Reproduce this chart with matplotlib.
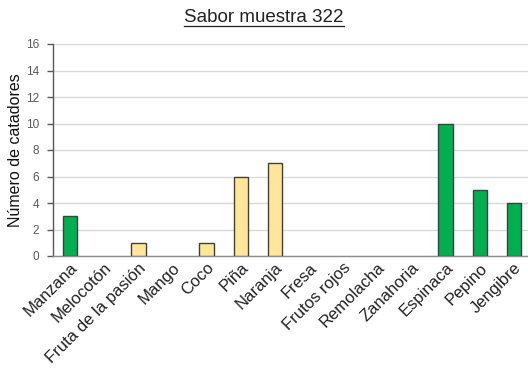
import matplotlib
matplotlib.use("Agg")
import matplotlib.pyplot as plt
from matplotlib.lines import Line2D

plt.rcParams['font.family'] = ['Liberation Sans', 'DejaVu Sans']

categories = ["Manzana", "Melocotón", "Fruta de la pasión", "Mango", "Coco", "Piña",
              "Naranja", "Fresa", "Frutos rojos", "Remolacha", "Zanahoria",
              "Espinaca", "Pepino", "Jengibre"]
values = [3, 0, 1, 0, 1, 6, 7, 0, 0, 0, 0, 10, 5, 4]
groups = ["verde", "fruta", "fruta", "fruta", "fruta", "fruta", "fruta",
          "rojo", "rojo", "rojo", "rojo", "verde", "verde", "verde"]
palette = {"verde": "#00B050", "fruta": "#FFE699", "rojo": "#E46C6C"}

fig = plt.figure(figsize=(5.28, 3.79), dpi=100)
ax = fig.add_axes([53 / 528, 1 - 256 / 379, 478 / 528, (256 - 44) / 379])

x = list(range(len(categories)))
ax.bar(x, values, width=0.42, color=[palette[g] for g in groups],
       edgecolor="#404040", linewidth=[1.0 if v > 0 else 0 for v in values],
       zorder=3)

ax.set_xlim(-0.5, len(categories) - 0.5)
ax.set_ylim(0, 16)
ax.set_yticks(range(0, 17, 2))
ax.yaxis.grid(True, color="#D9D9D9", linewidth=1.0, zorder=0)
ax.set_axisbelow(True)

ax.set_xticks(x)
ax.set_xticklabels(categories, rotation=45, ha="right", rotation_mode="anchor",
                   fontsize=12, color="#222222")
ax.tick_params(axis="x", length=0, pad=3)
ax.tick_params(axis="y", length=4, width=1, color="#595959", labelsize=8.5,
               labelcolor="#595959", pad=6)

for side in ("top", "right"):
    ax.spines[side].set_visible(False)
ax.spines["left"].set_color("#595959")
ax.spines["bottom"].set_color("#8C8C8C")
ax.spines["left"].set_linewidth(1.0)
ax.spines["bottom"].set_linewidth(1.0)

ax.set_ylabel("Número de catadores", fontsize=11.5, color="#111111", labelpad=2)

title = fig.text(264 / 528, 1 - 18 / 379, "Sabor muestra 322", ha="center",
                 va="center", fontsize=13.5, color="#222222")
fig.canvas.draw()
bb = title.get_window_extent().transformed(fig.transFigure.inverted())
fig.add_artist(Line2D([bb.x0, bb.x1], [bb.y0 + 0.002, bb.y0 + 0.002],
                      transform=fig.transFigure, color="#222222", linewidth=0.9))

fig.savefig("out.png", dpi=100)
